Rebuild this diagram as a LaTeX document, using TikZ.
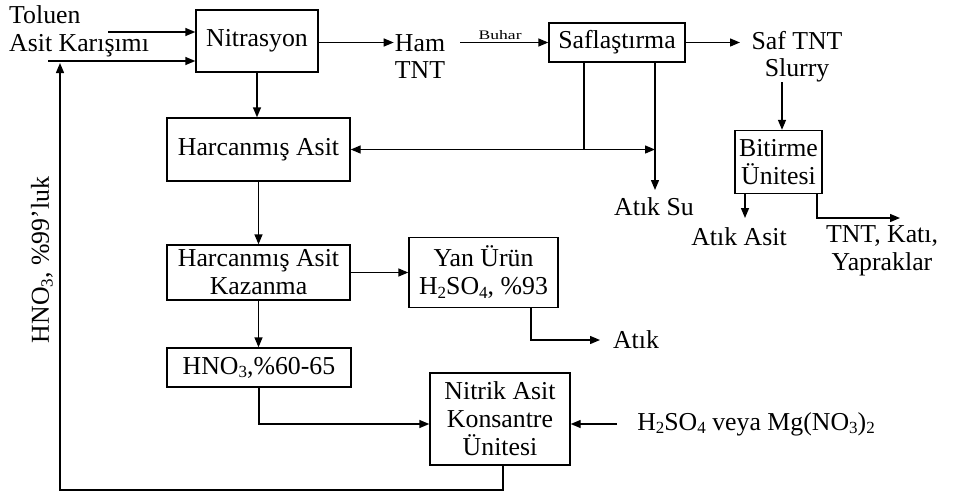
\documentclass[tikz,border=0pt]{standalone}
\usepackage{fontspec}
\usepackage{graphicx}
\setmainfont{Liberation Serif}
\usetikzlibrary{arrows.meta}
\newcommand\lowidx[1]{\raisebox{-0.3ex}{\fontsize{17}{17}\selectfont #1}}
\begin{document}
\begin{tikzpicture}[x=1pt,y=-1pt,
  font=\fontsize{25.8}{28}\selectfont,
  box/.style={draw, line width=1.4pt, inner sep=0pt, align=center},
  lbl/.style={inner sep=1pt, align=center},
  flow/.style={line width=1.4pt, -{Triangle[length=10pt,width=8pt]}},
  both/.style={line width=1.4pt, {Triangle[length=10pt,width=8pt]}-{Triangle[length=10pt,width=8pt]}},
  plain/.style={line width=1.4pt}]
\useasboundingbox (0,0) rectangle (958,498);

% boxes
\node[box, minimum width=122pt, minimum height=62pt] (nit) at (257,41) {Nitrasyon};
\node[box, minimum width=136pt, minimum height=39pt] (saf) at (617,42.5) {Saflaştırma};
\node[box, minimum width=183pt, minimum height=63pt] (harc) at (258.5,149.5) {Harcanmış Asit};
\node[box, minimum width=183pt, minimum height=55pt] (kaz) at (258.5,272.5) {Harcanmış Asit\\Kazanma};
\node[box, minimum width=184pt, minimum height=39pt] (hno) at (259,367.5) {HNO\lowidx{3},\%60-65};
\node[box, minimum width=149pt, minimum height=70pt] (yan) at (483.5,272.5) {Yan Ürün\\H\lowidx{2}SO\lowidx{4}, \%93};
\node[box, minimum width=140pt, minimum height=92pt] (nik) at (500,419) {Nitrik Asit\\Konsantre\\Ünitesi};
\node[box, minimum width=87pt, minimum height=63pt] (bit) at (778.5,162) {Bitirme\\Ünitesi};

% text labels
\node[lbl, align=left, anchor=west, font=\fontsize{25.8}{28}\selectfont] (tol) at (8,31) {Toluen\\Asit Karışımı};
\node[lbl, font=\fontsize{25.8}{27}\selectfont] (ham) at (420,57) {Ham\\TNT};
\node[lbl, font=\fontsize{25.8}{27}\selectfont] (saftnt) at (797,57) {Saf TNT\\Slurry};
\node[lbl] (atiksu) at (654,207) {Atık Su};
\node[lbl] (atikasit) at (739,237) {Atık Asit};
\node[lbl] (tntkati) at (882,251) {TNT, Katı,\\Yapraklar};
\node[lbl] (atik) at (636,340) {Atık};
\node[lbl] (acid) at (756,424) {H\lowidx{2}SO\lowidx{4} veya Mg(NO\lowidx{3})\lowidx{2}};
\node[lbl, rotate=90] (hno99) at (42,260) {HNO\lowidx{3}, \%99’luk};

% helper coordinates
\coordinate (in1) at (108,32);
\coordinate (in2) at (48,61);
\coordinate (bst) at (460,42.5);
\coordinate (st) at (740,42.5);
\coordinate (sl) at (782,82);
\coordinate (sj) at (584,149.5);
\coordinate (su) at (655,190);
\coordinate (sh) at (655,149.5);
\coordinate (aa) at (745,218);
\coordinate (tkx) at (817,218);
\coordinate (tk) at (900,218);
\coordinate (yx) at (531,340);
\coordinate (ya) at (600,340);
\coordinate (ac) at (617,424);
\coordinate (fbx) at (503,490);
\coordinate (fbl) at (60,490);
\coordinate (fb) at (60,63);

% connectors
\draw[flow] (in1) -- (in1 -| nit.west);
\draw[flow] (in2) -- (in2 -| nit.west);
\draw[flow] (nit.east |- saf.west) -- (ham.west |- saf.west);
\draw[flow] (bst) -- (saf.west) node[midway, above, xshift=-4pt, inner sep=2pt, font=\fontsize{13}{15}\selectfont] (buh) {\scalebox{1.35}[1]{Buhar}};
\draw[flow] (saf.east) -- (st);
\draw[flow] (sl) -- (sl |- bit.north);
\draw[flow] (aa |- bit.south) -- (aa);
\draw[flow] (tkx |- bit.south) -- (tkx) -- (tk);
\draw[plain] (sj |- saf.south) -- (sj);
\draw[flow] (su |- saf.south) -- (su);
\draw[both] (harc.east) -- (sh);
\draw[flow] (nit.south) -- (nit.south |- harc.north);
\draw[flow] (harc.south) -- (harc.south |- kaz.north);
\draw[flow] (kaz.east) -- (kaz.east -| yan.west);
\draw[flow] (yx |- yan.south) -- (yx) -- (ya);
\draw[flow] (kaz.south) -- (kaz.south |- hno.north);
\draw[flow] (hno.south) |- (nik.west |- ac);
\draw[flow] (ac) -- (ac -| nik.east);
\draw[flow] (fbx |- nik.south) -- (fbx) -- (fbl) -- (fb);
\end{tikzpicture}
\end{document}
